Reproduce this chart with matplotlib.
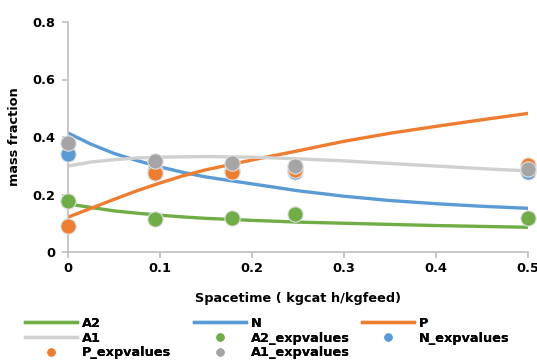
import numpy as np
import matplotlib.pyplot as plt
from matplotlib.lines import Line2D

plt.rcParams['font.family'] = ['DejaVu Sans']
plt.rcParams['font.weight'] = 'bold'

# model curves
tau = [0, 0.025, 0.05, 0.075, 0.1, 0.125, 0.15, 0.2, 0.25, 0.3, 0.35, 0.4, 0.45, 0.5]
A2 = [0.167, 0.155, 0.143, 0.135, 0.128, 0.122, 0.117, 0.110, 0.104, 0.100, 0.096, 0.092, 0.089, 0.086]
N = [0.414, 0.375, 0.343, 0.318, 0.296, 0.277, 0.261, 0.237, 0.213, 0.194, 0.179, 0.168, 0.159, 0.152]
P = [0.121, 0.152, 0.183, 0.213, 0.240, 0.265, 0.286, 0.320, 0.352, 0.385, 0.413, 0.437, 0.460, 0.482]
A1 = [0.299, 0.313, 0.321, 0.327, 0.330, 0.331, 0.332, 0.330, 0.324, 0.317, 0.308, 0.299, 0.290, 0.282]

# experimental points
tau_exp = [0, 0.0946, 0.1786, 0.2467, 0.5]
A2_exp = [0.177, 0.114, 0.117, 0.131, 0.117]
N_exp = [0.341, 0.285, 0.285, 0.279, 0.279]
P_exp = [0.092, 0.276, 0.279, 0.285, 0.303]
A1_exp = [0.378, 0.317, 0.308, 0.300, 0.289]

green, blue, orange = "#70AD47", "#5B9BD5", "#ED7D31"
lgray, dgray = "#D0D0D0", "#A5A5A5"

fig = plt.figure(figsize=(5.37, 3.62), dpi=100)
ax = fig.add_axes([68/537, 1 - 252/362, 460/537, 230/362])

lw = 2.4
ax.plot(tau, A2, color=green, lw=lw, label="A2")
ax.plot(tau, N, color=blue, lw=lw, label="N")
ax.plot(tau, P, color=orange, lw=lw, label="P")
ax.plot(tau, A1, color=lgray, lw=lw, label="A1")

ms = 11
for y, c, lab in [(A2_exp, green, "A2_expvalues"), (N_exp, blue, "N_expvalues"),
                  (P_exp, orange, "P_expvalues"), (A1_exp, dgray, "A1_expvalues")]:
    ax.plot(tau_exp, y, "o", color=c, ms=ms, mec="#E0E0E0", mew=0.8, label=lab,
            clip_on=False, zorder=3)

ax.set_xlim(0, 0.5)
ax.set_ylim(0, 0.8)
ax.set_xticks([0, 0.1, 0.2, 0.3, 0.4, 0.5])
ax.set_xticklabels(["0", "0.1", "0.2", "0.3", "0.4", "0.5"])
ax.set_yticks([0, 0.2, 0.4, 0.6, 0.8])
ax.set_yticklabels(["0", "0.2", "0.4", "0.6", "0.8"])
for s in ["top", "right"]:
    ax.spines[s].set_visible(False)
for s in ["left", "bottom"]:
    ax.spines[s].set_color("#BFBFBF")
    ax.spines[s].set_linewidth(1.2)
ax.tick_params(colors="#BFBFBF", labelcolor="black", labelsize=9.3, length=4, width=1.2)
ax.tick_params(axis="y", pad=5)
ax.set_xlabel("Spacetime ( kgcat h/kgfeed)", fontsize=9.3, fontweight="bold", labelpad=12)
ax.set_ylabel("mass fraction", fontsize=9.3, fontweight="bold", labelpad=8)

h, l = ax.get_legend_handles_labels()
small = [Line2D([], [], ls="none", marker="o", color=hh.get_color(), ms=5) for hh in h[4:]]
handles = h[:4] + small
# Excel fills row by row; one legend per column
columns = [[0, 3, 6], [1, 4, 7], [2, 5]]
xs = [25, 194, 362]
for col, x0 in zip(columns, xs):
    leg = fig.legend([handles[i] for i in col], [l[i] for i in col],
                     loc="upper left", bbox_to_anchor=(x0/537, 1 - 317/362),
                     frameon=False, fontsize=9.3, handlelength=4.0, handletextpad=0.4,
                     labelspacing=0.12, borderaxespad=0, borderpad=0)
    fig.add_artist(leg)

fig.savefig("out.png", dpi=100)
